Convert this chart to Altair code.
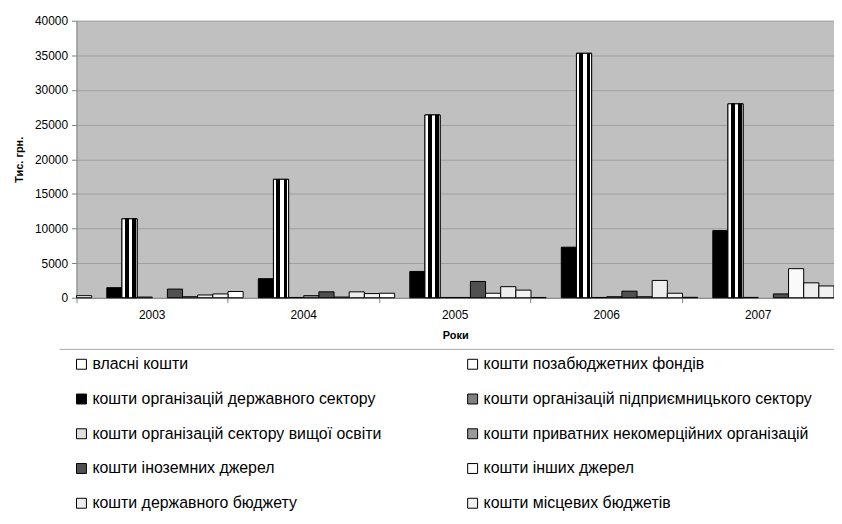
import altair as alt
import pandas as pd

years = ["2003", "2004", "2005", "2006", "2007"]
series = [
    "власні кошти",
    "кошти позабюджетних фондів",
    "кошти організацій державного сектору",
    "кошти організацій підприємницького сектору",
    "кошти організацій сектору вищої освіти",
    "кошти приватних некомерційних організацій",
    "кошти іноземних джерел",
    "кошти інших джерел",
    "кошти державного бюджету",
    "кошти місцевих бюджетів",
]
vlasni = [300, 900, 650, 40, 60]
pozabudzhetni = [0, 0, 0, 0, 0]
derzh_sektor = [1450, 2750, 3800, 7300, 9700]
pidpryiemnytskyi = [11400, 17100, 26400, 35300, 28000]
vyshcha_osvita = [100, 40, 40, 40, 50]
pryvatni = [0, 300, 40, 150, 0]
inozemni = [1250, 850, 2350, 950, 550]
inshi = [150, 100, 650, 150, 4200]
derzh_budzhet = [400, 850, 1600, 2500, 2150]
mistsevi = [550, 600, 1100, 650, 1700]

all_values = [vlasni, pozabudzhetni, derzh_sektor, pidpryiemnytskyi, vyshcha_osvita,
              pryvatni, inozemni, inshi, derzh_budzhet, mistsevi]
colors = ["#ffffff", "#ffffff", "#000000", "#808080", "#e0e0e0",
          "#9a9a9a", "#505050", "#fafafa", "#eeeeee", "#f2f2f2"]

rows = []
for s, vals in zip(series, all_values):
    for yr, v in zip(years, vals):
        rows.append({"year": yr, "series": s, "value": v})
df = pd.DataFrame(rows)

FONT = "Liberation Sans"

x_enc = alt.X(
    "year:N",
    scale=alt.Scale(paddingInner=0, paddingOuter=0),
    axis=alt.Axis(title="Роки", titleFontSize=11, titleFontWeight="bold", titlePadding=9,
                  labelFontSize=12, labelAngle=0, labelPadding=7, tickSize=5,
                  bandPosition=0, tickColor="#808080",
                  domainColor="#808080", labelColor="black", titleColor="black"),
)
xo_enc = alt.XOffset("series:N", sort=series,
                     scale=alt.Scale(domain=series, paddingInner=0, paddingOuter=0))
y_enc = alt.Y(
    "value:Q",
    scale=alt.Scale(domain=[0, 40000]),
    axis=alt.Axis(title="Тис. грн.", titleFontSize=11, titleFontWeight="bold", titlePadding=10,
                  values=list(range(0, 40001, 5000)), format="d", labelFontSize=12,
                  labelPadding=4, tickSize=5, tickColor="#808080", domainColor="#808080",
                  gridColor="#a0a0a0", labelColor="black", titleColor="black"),
)

base = alt.Chart(df).transform_filter("datum.value > 0")

bars = base.mark_bar(stroke="black", strokeWidth=1).encode(
    x=x_enc,
    xOffset=xo_enc,
    y=y_enc,
    color=alt.Color(
        "series:N",
        sort=series,
        scale=alt.Scale(domain=series, range=colors),
        legend=alt.Legend(
            title=None, orient="none", legendX=-3, legendY=338, columns=2,
            direction="horizontal",
            columnPadding=83, rowPadding=19, symbolType="square", symbolSize=100,
            symbolStrokeColor="black", symbolStrokeWidth=1, labelFontSize=16,
            labelLimit=500, labelOffset=3, labelColor="black", padding=0,
        ),
    ),
)

stripe_fill = {
    "gradient": "linear",
    "x1": 0, "y1": 0, "x2": 1, "y2": 0,
    "stops": [
        {"offset": 0.0, "color": "white"},
        {"offset": 0.2, "color": "white"},
        {"offset": 0.2, "color": "black"},
        {"offset": 0.44, "color": "black"},
        {"offset": 0.44, "color": "white"},
        {"offset": 0.68, "color": "white"},
        {"offset": 0.68, "color": "black"},
        {"offset": 0.92, "color": "black"},
        {"offset": 0.92, "color": "white"},
        {"offset": 1.0, "color": "white"},
    ],
}
stripes = base.transform_filter(
    alt.datum.series == series[3]
).mark_bar(stroke="black", strokeWidth=1, fill=stripe_fill).encode(
    x=x_enc, xOffset=xo_enc, y=y_enc
)

line_df = pd.DataFrame({"a": [0]})
legend_line = alt.Chart(line_df).mark_rule(color="#a8a8a8", strokeWidth=1).encode(
    x=alt.value(-17), x2=alt.value(765), y=alt.value(331)
)

chart = alt.layer(bars, stripes, legend_line).properties(
    width=763, height=279,
    padding={"left": 69, "top": 11, "right": 0, "bottom": 218},
    autosize=alt.AutoSizeParams(type="none"),
).configure(font=FONT).configure_view(fill="#c0c0c0", strokeWidth=0)

chart.save("out.html", embed_options={"renderer": "svg", "actions": False})
